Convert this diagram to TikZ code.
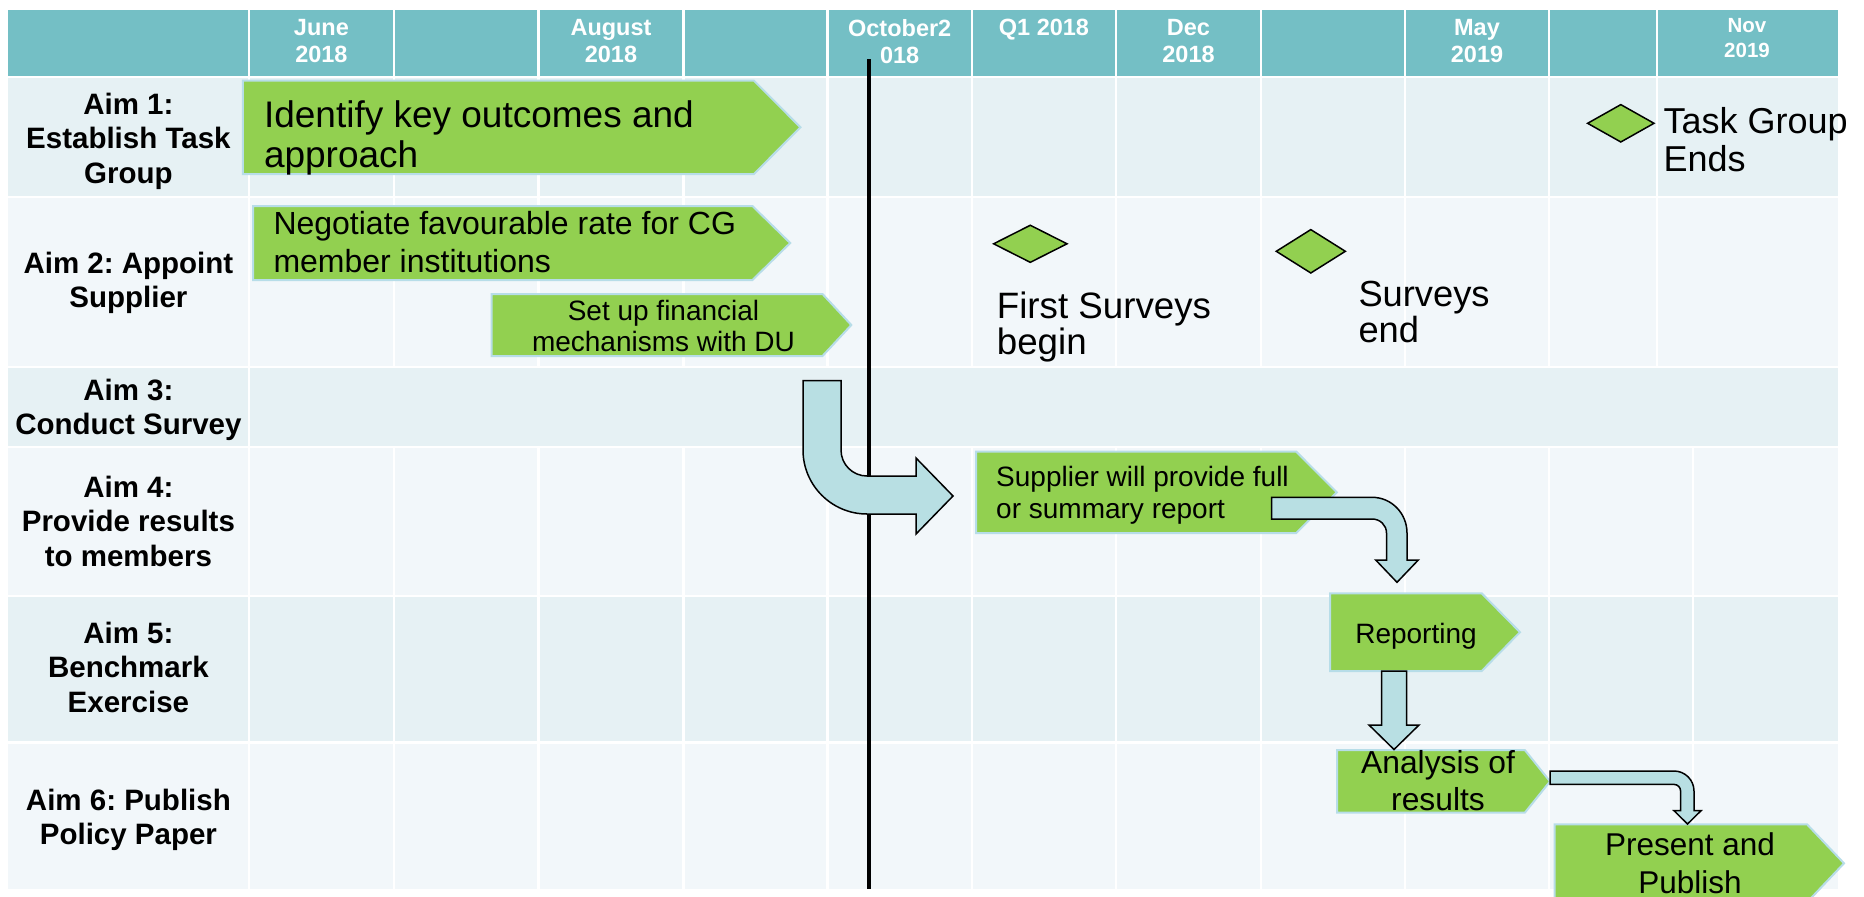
\documentclass[tikz,border=0pt]{standalone}
\usepackage{fontspec}
\setmainfont{Liberation Sans}
\usetikzlibrary{shapes.geometric}
\frenchspacing

\definecolor{hdrteal}{RGB}{116,191,197}
\definecolor{rowdark}{RGB}{230,241,244}
\definecolor{rowlight}{RGB}{242,247,250}
\definecolor{chevgreen}{RGB}{146,208,80}
\definecolor{chevedge}{RGB}{183,221,232}
\definecolor{flowblue}{RGB}{184,223,227}

\begin{document}
\begin{tikzpicture}[x=1pt,y=-1pt]
	\tikzstyle{grid}=[white, line width=2.5]
	\tikzstyle{month}=[text=white, font=\bfseries\fontsize{23.5}{27}\selectfont, align=center, anchor=north, inner sep=0]
	\tikzstyle{aim}=[font=\bfseries\fontsize{29.5}{34.5}\selectfont, align=center, inner sep=0]
	\tikzstyle{chev}=[fill=chevgreen, draw=chevedge, line width=2]
	\tikzstyle{task}=[inner sep=0, align=center, anchor=north]
	\tikzstyle{milestone}=[diamond, fill=chevgreen, draw=black, line width=1.5, inner sep=0]
	\tikzstyle{note}=[inner sep=0, anchor=north west, align=left, font=\fontsize{36}{38}\selectfont]
	\tikzstyle{flow}=[fill=flowblue, draw=black, line width=1.5]
	\clip (0,0) rectangle (1864,897);

	\fill[hdrteal] (8,10) rectangle (1838,77);
	\fill[rowdark] (8,77) rectangle (1838,197);
	\fill[rowlight] (8,197) rectangle (1838,367);
	\fill[rowdark] (8,367) rectangle (1838,447);
	\fill[rowlight] (8,447) rectangle (1838,596);
	\fill[rowdark] (8,596) rectangle (1838,742.5);
	\fill[rowlight] (8,742.5) rectangle (1838,889);
	\draw[grid] (8,77) -- (1838,77) (8,197) -- (1838,197) (8,367) -- (1838,367)
		(8,447) -- (1838,447) (8,596) -- (1838,596) (8,742.5) -- (1838,742.5);
	\draw[grid] (248.8,10) -- (248.8,889)
		(393.9,10) -- (393.9,367) (393.9,447) -- (393.9,889)
		(538.4,10) -- (538.4,367) (538.4,447) -- (538.4,889)
		(683.5,10) -- (683.5,367) (683.5,447) -- (683.5,889)
		(827.3,10) -- (827.3,367) (827.3,447) -- (827.3,889)
		(972,10) -- (972,367) (972,447) -- (972,889)
		(1116,10) -- (1116,367) (1116,447) -- (1116,889)
		(1261,10) -- (1261,367) (1261,447) -- (1261,889)
		(1405,10) -- (1405,367) (1405,447) -- (1405,889)
		(1549,10) -- (1549,367) (1549,447) -- (1549,889)
		(1657,10) -- (1657,367) (1693,447) -- (1693,889);

	\node[month] (june) at (321.4,19.2) {June\\2018};
	\node[month] (august) at (611,19.2) {August\\2018};
	\node[month] (october) at (899.7,19.2) {October2\\018};
	\node[month] (q1) at (1044,19.2) {Q1 2018};
	\node[month] (dec) at (1188.5,19.2) {Dec\\2018};
	\node[month] (may) at (1477,19.2) {May\\2019};
	\node[month, font=\bfseries\fontsize{20.5}{25}\selectfont] (nov) at (1747,18.3) {Nov\\2019};

	\node[aim] (aim1) at (128.4,141) {Aim 1:\\Establish Task\\Group};
	\node[aim] (aim2) at (128.4,283) {Aim 2: Appoint\\Supplier};
	\node[aim] (aim3) at (128.4,410) {Aim 3:\\Conduct Survey};
	\node[aim] (aim4) at (128.4,521.3) {Aim 4:\\Provide results\\to members};
	\node[aim] (aim5) at (128.4,667) {Aim 5:\\Benchmark\\Exercise};
	\node[aim] (aim6) at (128.4,820) {Aim 6: Publish\\Policy Paper};

	\coordinate (now top) at (869.3,59.4);
	\coordinate (now bottom) at (869.3,889);
	\draw[line width=4] (now top) -- (now bottom);

	\filldraw[chev] (242.8,80.7) -- (754,80.7) -- (800.4,127.3) -- (754,174) -- (242.8,174) -- cycle;
	\node[task, anchor=north west, align=left, font=\fontsize{37}{40}\selectfont] (identify) at (263.8,100.8) {Identify key outcomes and\\approach};
	\filldraw[chev] (253,206) -- (752.4,206) -- (790.2,243) -- (752.4,280) -- (253,280) -- cycle;
	\node[task, anchor=north west, align=left, font=\fontsize{32}{38}\selectfont] (negotiate) at (273.3,211.4) {Negotiate favourable rate for CG\\member institutions};
	\filldraw[chev] (491.7,294) -- (822.5,294) -- (851.3,325) -- (822.5,356) -- (491.7,356) -- cycle;
	\node[task, font=\fontsize{28}{31.7}\selectfont] (setup) at (663.5,299.6) {Set up financial\\mechanisms with DU};
	\filldraw[chev] (976,451.7) -- (1296.3,451.7) -- (1336.8,492.3) -- (1296.3,533) -- (976,533) -- cycle;
	\node[task, anchor=north west, align=left, font=\fontsize{28}{31.7}\selectfont] (supplier) at (996,466.3) {Supplier will provide full\\or summary report};
	\filldraw[chev] (1330,593.3) -- (1481.7,593.3) -- (1520,632.2) -- (1481.7,671) -- (1330,671) -- cycle;
	\node[task, font=\fontsize{28}{31.7}\selectfont] (reporting) at (1416,622.7) {Reporting};
	\filldraw[chev] (1337,750) -- (1524.8,750) -- (1550,781.4) -- (1524.8,812.7) -- (1337,812.7) -- cycle;
	\node[task, font=\fontsize{31.8}{37.4}\selectfont] (analysis) at (1438,750.1) {Analysis of\\results};
	\filldraw[chev] (1554.7,824.3) -- (1807,824.3) -- (1844,863.3) -- (1807,902.3) -- (1554.7,902.3) -- cycle;
	\node[task, font=\fontsize{31.5}{38.3}\selectfont] (present) at (1690,832.4) {Present and\\Publish};

	\draw[flow] (803,380.7) -- (803,450) .. controls (803,485.3) and (831.7,514) .. (867,514)
		-- (916,514) -- (916,534) -- (953,496) -- (916,458) -- (916,476) -- (867,476)
		.. controls (852.6,476) and (841,464.4) .. (841,450) -- (841,380.7) -- cycle;
	\draw[flow] (1271.7,497.3) -- (1372,497.3) .. controls (1391.6,497.3) and (1407,513.4) .. (1407,533)
		-- (1407,560) -- (1418.3,560) -- (1397,582.3) -- (1375.7,560) -- (1386.5,560) -- (1386.5,533)
		.. controls (1386.5,525) and (1380,519) .. (1372,519) -- (1271.7,519) -- cycle;
	\draw[flow] (1381.5,671) -- (1381.5,725) -- (1369,725) -- (1394,749.5) -- (1419,725)
		-- (1406.5,725) -- (1406.5,671) -- cycle;
	\draw[flow] (1550,771) -- (1674,771) .. controls (1685,771) and (1694,780) .. (1694,791)
		-- (1694,810.7) -- (1701,810.7) -- (1687.5,824) -- (1674,810.7) -- (1680.6,810.7) -- (1680.6,791)
		.. controls (1680.6,787.4) and (1677.6,784.4) .. (1674,784.4) -- (1550,784.4) -- cycle;

	\node[milestone, minimum width=67, minimum height=38] (tg end) at (1620.8,123.3) {};
	\node[note] (tg text) at (1663.3,107.5) {Task Group\\Ends};
	\node[milestone, minimum width=74, minimum height=37.7] (fs begin) at (1030.3,243.8) {};
	\node[note, font=\fontsize{36.7}{35.7}\selectfont] (fs text) at (996.7,292) {First Surveys\\begin};
	\node[milestone, minimum width=69.7, minimum height=44] (s end) at (1310.8,251.3) {};
	\node[note, font=\fontsize{36.3}{36.6}\selectfont] (se text) at (1358.3,280.6) {Surveys\\end};
\end{tikzpicture}
\end{document}
